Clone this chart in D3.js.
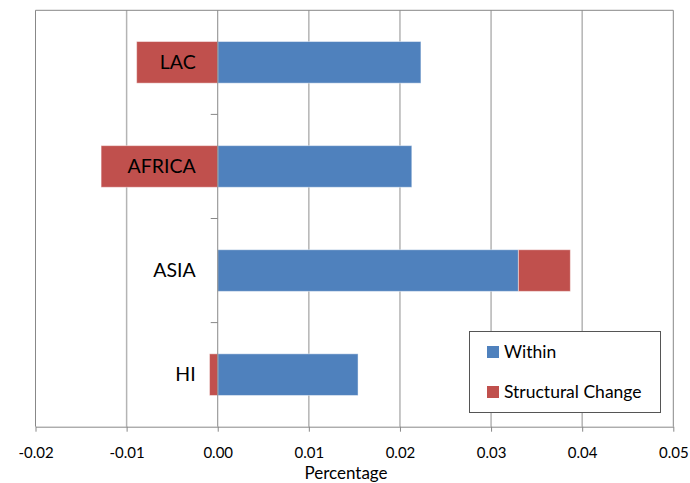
<!DOCTYPE html>
<html><head><meta charset="utf-8">
<script src="https://cdn.jsdelivr.net/npm/d3@7/dist/d3.min.js"></script>
<style>body{margin:0;background:#fff}svg{display:block}text{font-family:Lato,"Open Sans",sans-serif;fill:#000}</style>
</head><body>
<svg id="c" width="690" height="483"></svg>
<script>
const categories = ["LAC","AFRICA","ASIA","HI"];
const seriesNames = ["Within","Structural Change"];
const within = [0.0223, 0.0213, 0.0330, 0.0154];
const structural = [-0.0089, -0.0128, 0.0057, -0.0009];
const xTicks = [-0.02,-0.01,0.00,0.01,0.02,0.03,0.04,0.05];
const colors = ["#4F81BD","#C0504D"];

const svg = d3.select("#c");
const L = 35.5, R = 673.3, T = 10.3, B = 426.7;
const x = d3.scaleLinear().domain([-0.02,0.05]).range([L,R]);
const y = d3.scaleBand().domain(categories).range([T,B]).paddingInner(0.6).paddingOuter(0.3);
const yb = d3.scaleBand().domain(categories).range([T,B]);

// gridlines
svg.append("g").selectAll("line").data(xTicks.filter(d=>d!==0 && d!==-0.02 && d!==0.05)).join("line")
  .attr("x1",d=>x(d)).attr("x2",d=>x(d)).attr("y1",T).attr("y2",B)
  .attr("stroke","#b4b4b4").attr("stroke-width",1.5);
// plot frame
svg.append("path").attr("d",`M${L},${B}V${T}H${R}V${B}`).attr("fill","none").attr("stroke","#888").attr("stroke-width",1);

// stacked bars
const data = categories.map((c,i)=>({cat:c, vals:[within[i], structural[i]]}));
const gBars = svg.append("g");
data.forEach(d=>{
  let pos=0, neg=0;
  d.vals.forEach((v,k)=>{
    let x0,x1;
    if(v>=0){x0=pos;x1=pos+v;pos=x1;} else {x0=neg+v;x1=neg;neg=x0;}
    gBars.append("rect").attr("x",x(x0)).attr("width",x(x1)-x(x0))
      .attr("y",y(d.cat)).attr("height",y.bandwidth())
      .attr("fill",colors[k]).attr("stroke","rgba(255,255,255,0.45)").attr("stroke-width",1);
  });
});

// zero axis with category ticks
svg.append("line").attr("x1",x(0)).attr("x2",x(0)).attr("y1",T).attr("y2",B).attr("stroke","#888").attr("stroke-width",1);
svg.append("g").selectAll("line").data(categories.slice(1)).join("line")
  .attr("x1",x(0)-7).attr("x2",x(0)).attr("y1",d=>yb(d)).attr("y2",d=>yb(d)).attr("stroke","#888");

// category labels
svg.append("g").selectAll("text").data(categories).join("text")
  .attr("x",x(0)-22).attr("y",d=>y(d)+y.bandwidth()/2).attr("dy","0.35em")
  .attr("text-anchor","end").attr("font-size",19.5).text(d=>d);

// x axis
const xAxis = d3.axisBottom(x).tickValues(xTicks).tickFormat(d3.format(".2f")).tickSize(5).tickSizeOuter(0);
const ga = svg.append("g").attr("transform",`translate(0,${B})`).call(xAxis);
ga.select(".domain").attr("stroke","#888");
ga.selectAll(".tick line").attr("stroke","#888");
ga.selectAll(".tick text").attr("font-size",15).attr("dy","1.55em").attr("font-family","Lato,'Open Sans',sans-serif").attr("fill","#000")
  .text(d=>d3.format(".2f")(d).replace("\u2212","-").replace("-0.00","0.00"));
svg.append("text").attr("x",346).attr("y",479).attr("text-anchor","middle").attr("font-size",17).text("Percentage");

// legend
const lg = svg.append("g");
lg.append("rect").attr("x",469.5).attr("y",331.5).attr("width",191).attr("height",81).attr("fill","#fff").attr("stroke","#555");
seriesNames.forEach((s,i)=>{
  const yy = 352 + i*40;
  lg.append("rect").attr("x",487).attr("y",yy-6).attr("width",12).attr("height",12).attr("fill",colors[i]);
  lg.append("text").attr("x",504).attr("y",yy).attr("dy","0.35em").attr("font-size",17.5).text(s);
});
</script>
</body></html>
